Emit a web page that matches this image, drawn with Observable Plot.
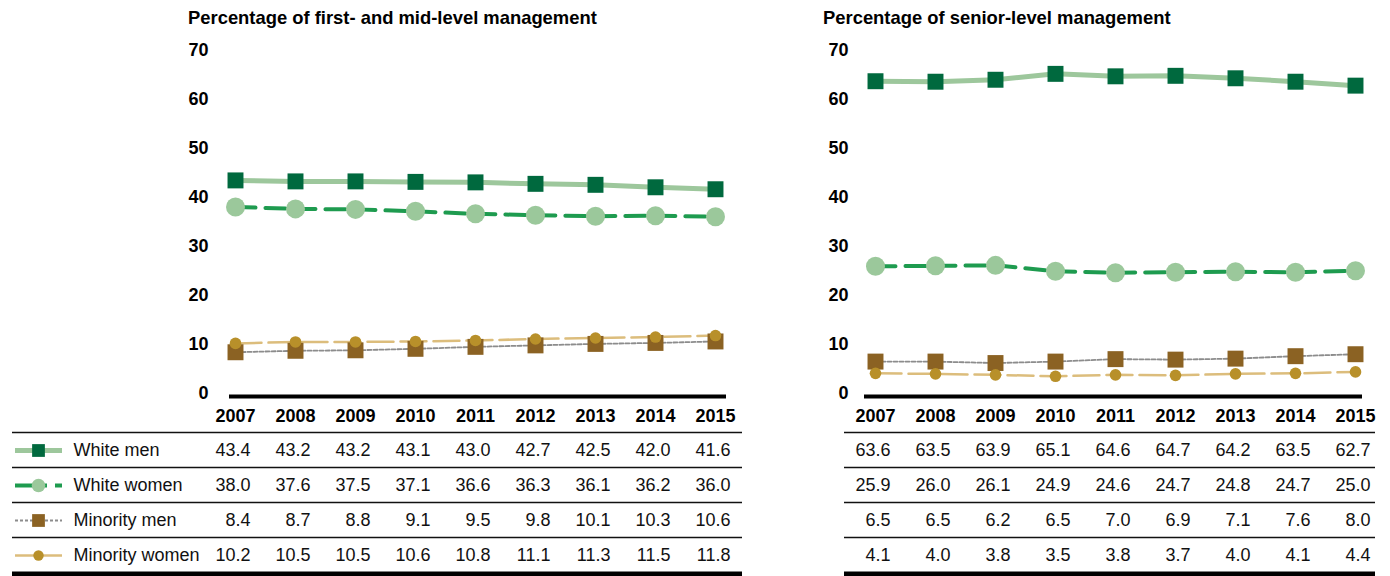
<!DOCTYPE html>
<html>
<head>
<meta charset="utf-8">
<script src="https://cdn.jsdelivr.net/npm/d3@7"></script>
<script src="https://cdn.jsdelivr.net/npm/@observablehq/plot@0.6"></script>
<style>
  body { margin: 0; background: #fff; font-family: "Liberation Sans", Arial, sans-serif; }
  #root { position: relative; width: 1390px; height: 576px; overflow: hidden; background: #fff; }
  .title { position: absolute; font-weight: bold; font-size: 18.4px; line-height: 18px; color: #000; white-space: nowrap; }
  .panel { position: absolute; }
  .panel svg { background: transparent; overflow: visible; }
</style>
</head>
<body>
<div id="root"></div>
<script>
// ---------------- data ----------------
const years = ["2007", "2008", "2009", "2010", "2011", "2012", "2013", "2014", "2015"];
const series = ["White men", "White women", "Minority men", "Minority women"];
const yTicks = [0, 10, 20, 30, 40, 50, 60, 70];

const titleFirstMid = "Percentage of first- and mid-level management";
const titleSenior = "Percentage of senior-level management";

// First- and mid-level management
const firstMidWhiteMen      = [43.4, 43.2, 43.2, 43.1, 43.0, 42.7, 42.5, 42.0, 41.6];
const firstMidWhiteWomen    = [38.0, 37.6, 37.5, 37.1, 36.6, 36.3, 36.1, 36.2, 36.0];
const firstMidMinorityMen   = [8.4, 8.7, 8.8, 9.1, 9.5, 9.8, 10.1, 10.3, 10.6];
const firstMidMinorityWomen = [10.2, 10.5, 10.5, 10.6, 10.8, 11.1, 11.3, 11.5, 11.8];

// Senior-level management
const seniorWhiteMen      = [63.6, 63.5, 63.9, 65.1, 64.6, 64.7, 64.2, 63.5, 62.7];
const seniorWhiteWomen    = [25.9, 26.0, 26.1, 24.9, 24.6, 24.7, 24.8, 24.7, 25.0];
const seniorMinorityMen   = [6.5, 6.5, 6.2, 6.5, 7.0, 6.9, 7.1, 7.6, 8.0];
const seniorMinorityWomen = [4.1, 4.0, 3.8, 3.5, 3.8, 3.7, 4.0, 4.1, 4.4];

// ---------------- styles ----------------
const styles = {
  "White men":      { line: "#9dc79c", lw: 5,   dash: null,    symbol: "square", fill: "#00693e", r: 9,   lr: 7.2, legendDash: null },
  "White women":    { line: "#1e9b4f", lw: 4,   dash: "20,10", symbol: "circle", fill: "#9bc89b", r: 9.5, lr: 6.8, legendDash: "32,8,20" },
  "Minority men":   { line: "#8c8c8c", lw: 1.8, dash: "4,2",   symbol: "square", fill: "#8b6223", r: 9,   lr: 7.2, legendDash: "3,2" },
  "Minority women": { line: "#dcbd7c", lw: 2.5, dash: "26,7",  symbol: "circle", fill: "#b8902a", r: 5.8, lr: 5.2, legendDash: null }
};

function toLong(arrs) {
  const out = [];
  series.forEach((s, i) => years.forEach((y, j) => out.push({ series: s, year: y, value: arrs[i][j] })));
  return out;
}
const firstMidData = toLong([firstMidWhiteMen, firstMidWhiteWomen, firstMidMinorityMen, firstMidMinorityWomen]);
const seniorData = toLong([seniorWhiteMen, seniorWhiteWomen, seniorMinorityMen, seniorMinorityWomen]);

const FONT = "Liberation Sans, Arial, sans-serif";

// legend line swatch symbol
const lineSymbol = { draw(context) { context.moveTo(-23.5, 0); context.lineTo(23.5, 0); } };

function mainPlot(data, cfg) {
  return Plot.plot({
    width: cfg.width, height: 392,
    marginLeft: cfg.ml, marginRight: cfg.mr, marginTop: 0, marginBottom: 26,
    style: { fontFamily: FONT, fontSize: "18px", color: "#000", background: "transparent" },
    x: { type: "point", domain: years, range: cfg.xr, padding: 0 },
    y: { domain: [0, 70], range: [363, 19.3] },
    marks: [
      Plot.ruleY([0], { dy: 3, stroke: "#000", strokeWidth: 4 }),
      ...series.map(s => Plot.line(data.filter(d => d.series === s), {
        x: "year", y: "value", stroke: styles[s].line, strokeWidth: styles[s].lw,
        strokeDasharray: styles[s].dash || undefined
      })),
      ...series.map(s => Plot.dot(data.filter(d => d.series === s), {
        x: "year", y: "value", symbol: styles[s].symbol, r: styles[s].r, fill: styles[s].fill, stroke: "none"
      })),
      Plot.axisY({ ticks: yTicks, tickSize: 0, tickPadding: cfg.pad, fontWeight: "bold", fontSize: 18, label: null }),
      Plot.axisX({ tickSize: 0, tickPadding: 13, fontWeight: "bold", fontSize: 18, label: null })
    ]
  });
}

function tablePlot(data, cfg) {
  const marks = [
    Plot.ruleY(series, { y: d => d, dy: -18, stroke: "#111", strokeWidth: 1.4 }),
    Plot.ruleY([series[series.length - 1]], { y: d => d, dy: 18.5, stroke: "#000", strokeWidth: 5 }),
    Plot.text(data, { x: "year", y: "series", text: d => d.value.toFixed(1), textAnchor: "end", dx: 15, fontSize: 18, fill: "#111" })
  ];
  if (cfg.legend) {
    series.forEach(s => {
      const st = styles[s];
      marks.push(Plot.dot([s], { y: d => d, frameAnchor: "left", dx: 26, r: 3, symbol: lineSymbol, fill: "none",
        stroke: st.line, strokeWidth: st.lw, strokeDasharray: st.legendDash || undefined }));
      marks.push(Plot.dot([s], { y: d => d, frameAnchor: "left", dx: 26, symbol: st.symbol, r: st.lr, fill: st.fill, stroke: "none" }));
    });
    marks.push(Plot.text(series, { y: d => d, text: d => d, frameAnchor: "left", dx: 61, textAnchor: "start", fontSize: 18, fill: "#111" }));
  }
  return Plot.plot({
    width: cfg.width, height: 154,
    marginLeft: cfg.ml, marginRight: cfg.mr, marginTop: 0, marginBottom: 0,
    style: { fontFamily: FONT, fontSize: "18px", color: "#000", background: "transparent" },
    x: { type: "point", domain: years, range: cfg.xr, padding: 0, axis: null },
    y: { type: "point", domain: series, range: [27, 134], padding: 0, axis: null },
    marks
  });
}

const root = document.getElementById("root");
function place(node, left, top) {
  const div = document.createElement("div");
  div.className = "panel";
  div.style.left = left + "px";
  div.style.top = top + "px";
  div.appendChild(node);
  root.appendChild(div);
}
function addTitle(text, left) {
  const t = document.createElement("div");
  t.className = "title";
  t.style.left = left + "px";
  t.style.top = "9px";
  t.textContent = text;
  root.appendChild(t);
}

addTitle(titleFirstMid, 188);
addTitle(titleSenior, 823);

place(mainPlot(firstMidData, { width: 745, ml: 229, mr: 19, xr: [232, 717.5], pad: 21 }), 0, 30);
place(tablePlot(firstMidData, { width: 745, ml: 12, mr: 3, xr: [232, 717.5], legend: true }), 0, 422);

place(mainPlot(seniorData, { width: 645, ml: 119, mr: 28, xr: [127, 612], pad: 16 }), 745, 30);
place(tablePlot(seniorData, { width: 645, ml: 99, mr: 15, xr: [127, 612], legend: false }), 745, 422);
</script>
</body>
</html>
